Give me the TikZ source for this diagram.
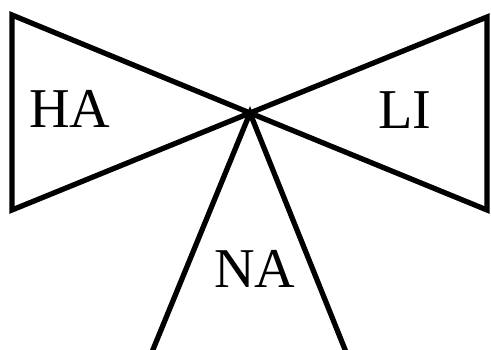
\documentclass[tikz,border=0pt]{standalone}
\usepackage{fontspec}
\setmainfont{Liberation Serif}
\usetikzlibrary{positioning}

\begin{document}
\begin{tikzpicture}[
  x=0.02cm,y=-0.02cm,
  wing/.style={draw=black,line width=3pt,line join=miter},
  tag/.style={font=\fontsize{32}{36}\selectfont,inner sep=0pt,anchor=center}
]
\useasboundingbox (0,0) rectangle (491,350);
\coordinate (hub) at (250,113);
\coordinate (haTop) at (12,15);
\coordinate (haBot) at (12,210);
\coordinate (liTop) at (487,17);
\coordinate (liBot) at (487,210);
\coordinate (naLeft) at (152,352);
\coordinate (naRight) at (346,352);
% the three wings
\draw[wing] (hub) -- (haTop) -- (haBot) -- cycle;
\draw[wing] (hub) -- (liTop) -- (liBot) -- cycle;
\draw[wing] (naLeft) -- (hub) -- (naRight);
\node[tag] (ha) at (70,109) {HA};
\node[tag] (li) at (405,110) {LI};
\node[tag] (na) at (255,269) {NA};
\end{tikzpicture}
\end{document}
